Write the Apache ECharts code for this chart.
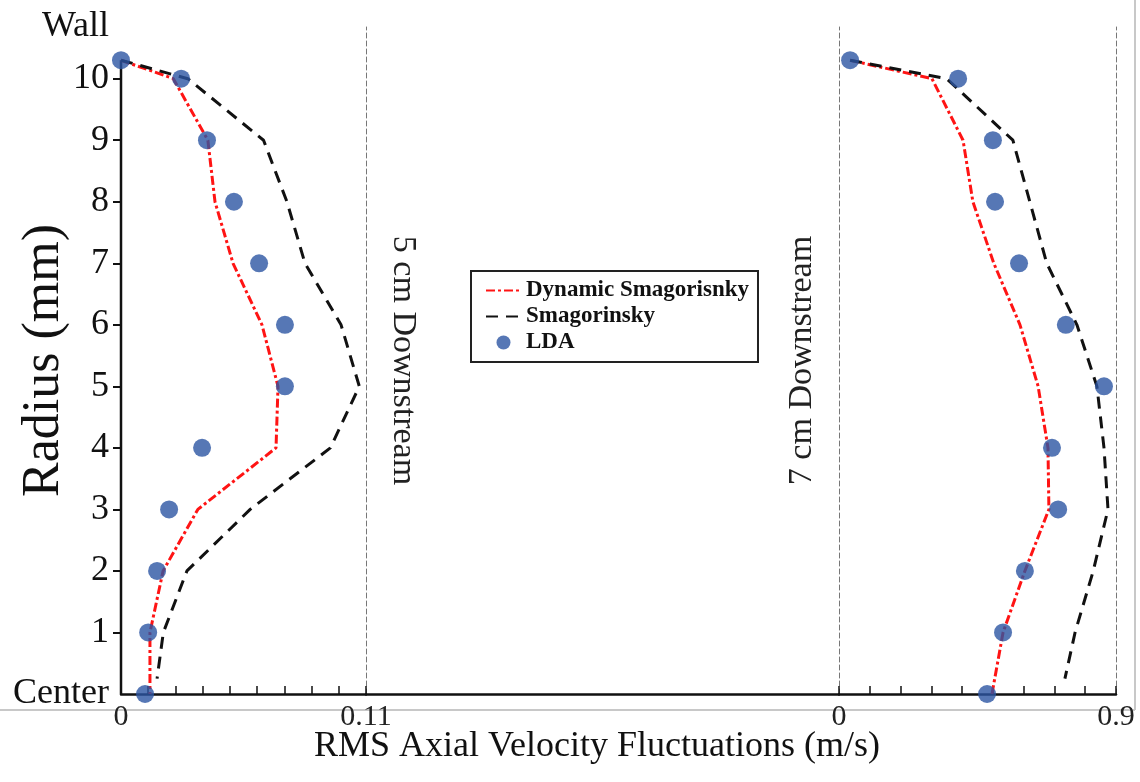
<!DOCTYPE html>
<html>
<head>
<meta charset="utf-8">
<title>RMS Axial Velocity Fluctuations</title>
<script src="https://cdn.jsdelivr.net/npm/echarts@6/dist/echarts.min.js"></script>
<style>
  html, body { margin: 0; padding: 0; background: #fff; }
  #chart { width: 1140px; height: 782px; }
</style>
</head>
<body>
<div id="chart"></div>
<script>
// Radial positions (mm) from the wall (10.3) down to the pipe centre (0)
const RADIUS = [10.3, 10, 9, 8, 7, 6, 5, 4, 3, 2, 1, 0];
const RADIUS_SMAG = [10.3, 10, 9, 8, 7, 6, 5, 4, 3, 2, 1, 0.25];
const WALL_RADIUS = 10.3;

// 5 cm downstream profiles (m/s)
const LDA_5CM  = [0, 0.027, 0.0386, 0.0507, 0.062, 0.0736, 0.0736, 0.0364, 0.0216, 0.0162, 0.0122, 0.0108];
const DYN_5CM  = [0, 0.0235, 0.039, 0.0422, 0.0503, 0.0633, 0.0705, 0.0696, 0.0345, 0.0189, 0.013, 0.013];
const SMAG_5CM = [0, 0.03, 0.064, 0.0745, 0.0826, 0.0988, 0.107, 0.094, 0.058, 0.0296, 0.019, 0.0162];

// 7 cm downstream profiles (m/s)
const LDA_7CM  = [0.036, 0.387, 0.5, 0.507, 0.585, 0.737, 0.861, 0.692, 0.712, 0.604, 0.533, 0.481];
const DYN_7CM  = [0.036, 0.302, 0.403, 0.435, 0.503, 0.588, 0.647, 0.679, 0.682, 0.604, 0.533, 0.497];
const SMAG_7CM = [0.036, 0.35, 0.565, 0.62, 0.675, 0.773, 0.838, 0.861, 0.874, 0.826, 0.767, 0.734];

// Axis ranges and tick labels
const Y_MAX = 10.84;
const Y_TICKS = [1, 2, 3, 4, 5, 6, 7, 8, 9, 10];
const Y_LABELS = [0, 1, 2, 3, 4, 5, 6, 7, 8, 9, 10, Y_MAX];
const X_MAX_5CM = 0.11;
const X_MAX_7CM = 0.9;
const X_TICK_STEP_5CM = X_MAX_5CM / 9;
const X_TICK_STEP_7CM = 0.1;

const SERIES_NAMES = ['Dynamic Smagorisnky', 'Smagorinsky', 'LDA'];
const PANEL_NAMES = ['5 cm Downstream', '7 cm Downstream'];
const X_TITLE = 'RMS Axial Velocity Fluctuations (m/s)';
const Y_TITLE = 'Radius (mm)';

const SERIF = "'Liberation Serif', 'Times New Roman', serif";
const pairs = (xs, ys) => xs.map((x, i) => [x, ys[i]]);

const DYN_STYLE = { color: '#ff1414', width: 3, type: [9, 3, 3, 3] };
const SMAG_STYLE = { color: '#111', width: 3, type: [12, 8] };
const LDA_COLOR = '#2c55a2';

const dashedEdge = { show: true, lineStyle: { color: '#777', width: 1, type: [5, 3] } };

const gridBase = { outerBoundsMode: 'none', containLabel: false, top: 27, height: 667 };
const grids = [
  Object.assign({ left: 121, width: 245 }, gridBase),
  Object.assign({ left: 366, width: 473 }, gridBase),
  Object.assign({ left: 839, width: 277 }, gridBase)
];

const xAxes = [
  {
    gridIndex: 0, type: 'value', min: 0, max: X_MAX_5CM, interval: X_TICK_STEP_5CM,
    axisLine: { show: true, onZero: false, lineStyle: { color: '#111', width: 2.5 } },
    axisTick: { show: true, inside: true, length: 8, lineStyle: { color: '#111', width: 1.5 } },
    axisLabel: {
      margin: 8, fontFamily: SERIF, fontSize: 30, color: '#222',
      formatter: v => (v === 0 ? '0' : (Math.abs(v - X_MAX_5CM) < 1e-9 ? String(X_MAX_5CM) : ''))
    },
    splitLine: { show: false }
  },
  {
    gridIndex: 1, type: 'value', min: 0, max: 1,
    axisLine: { show: true, onZero: false, lineStyle: { color: '#111', width: 2.5 } },
    axisTick: { show: false }, axisLabel: { show: false }, splitLine: { show: false }
  },
  {
    gridIndex: 2, type: 'value', min: 0, max: X_MAX_7CM, interval: X_TICK_STEP_7CM,
    axisLine: { show: true, onZero: false, lineStyle: { color: '#111', width: 2.5 } },
    axisTick: { show: true, inside: true, length: 8, lineStyle: { color: '#111', width: 1.5 } },
    axisLabel: {
      margin: 8, fontFamily: SERIF, fontSize: 30, color: '#222',
      formatter: v => (v === 0 ? '0' : (Math.abs(v - X_MAX_7CM) < 1e-9 ? String(X_MAX_7CM) : ''))
    },
    splitLine: { show: false }
  }
];

const yAxes = [
  {
    gridIndex: 0, type: 'value', position: 'left', min: 0, max: Y_MAX,
    axisLine: { show: false },
    axisTick: { show: true, customValues: Y_TICKS, length: 8, lineStyle: { color: '#111', width: 2 } },
    axisLabel: {
      customValues: Y_LABELS, margin: 12, fontFamily: SERIF, fontSize: 36, color: '#111',
      formatter: v => (v === 0 ? 'Center' : (v === Y_MAX ? 'Wall' : String(v)))
    },
    splitLine: { show: false },
    name: Y_TITLE, nameLocation: 'middle', nameRotate: 90, nameGap: 51, nameMoveOverlap: false,
    nameTextStyle: { fontFamily: SERIF, fontSize: 52, color: '#111' }
  },
  {
    gridIndex: 0, type: 'value', position: 'right', min: 0, max: Y_MAX,
    axisLine: dashedEdge, axisTick: { show: false }, axisLabel: { show: false }, splitLine: { show: false },
    name: PANEL_NAMES[0], nameLocation: 'middle', nameRotate: -90, nameGap: 20, nameMoveOverlap: false,
    nameTextStyle: { fontFamily: SERIF, fontSize: 34, color: '#222' }
  },
  {
    gridIndex: 1, type: 'value', min: 0, max: Y_MAX, show: false
  },
  {
    gridIndex: 2, type: 'value', position: 'left', min: 0, max: Y_MAX,
    axisLine: dashedEdge, axisTick: { show: false }, axisLabel: { show: false }, splitLine: { show: false },
    name: PANEL_NAMES[1], nameLocation: 'middle', nameRotate: 90, nameGap: 20, nameMoveOverlap: false,
    nameTextStyle: { fontFamily: SERIF, fontSize: 34, color: '#222' }
  },
  {
    gridIndex: 2, type: 'value', position: 'right', min: 0, max: Y_MAX,
    axisLine: dashedEdge, axisTick: { show: false }, axisLabel: { show: false }, splitLine: { show: false }
  }
];

const lineSeries = (name, xIdx, yIdx, xs, ys, style) => ({
  name, type: 'line', xAxisIndex: xIdx, yAxisIndex: yIdx,
  data: pairs(xs, ys), symbol: 'none', showSymbol: false, smooth: false,
  lineStyle: style, itemStyle: { color: style.color }, z: 3, silent: true
});

const scatterSeries = (xIdx, yIdx, xs, ys) => ({
  name: SERIES_NAMES[2], type: 'scatter', xAxisIndex: xIdx, yAxisIndex: yIdx,
  data: pairs(xs, ys), symbol: 'circle', symbolSize: 18,
  itemStyle: { color: LDA_COLOR }, z: 5, silent: true
});

const option = {
  animation: false,
  backgroundColor: '#fff',
  grid: grids,
  xAxis: xAxes,
  yAxis: yAxes,
  legend: {
    // line entries show only their dash pattern, no marker
    data: [
      { name: SERIES_NAMES[0], itemStyle: { opacity: 0 } },
      { name: SERIES_NAMES[1], itemStyle: { opacity: 0 } },
      { name: SERIES_NAMES[2] }
    ],
    orient: 'vertical', left: 471, top: 271,
    padding: [8, 9, 8, 14], itemGap: 3, itemWidth: 35, itemHeight: 14,
    borderColor: '#222', borderWidth: 2, backgroundColor: '#fff',
    textStyle: { fontFamily: SERIF, fontWeight: 'bold', fontSize: 23, color: '#111' },
    selectedMode: false
  },
  graphic: [
    // figure frame
    { type: 'line', shape: { x1: 0, y1: 710, x2: 1135, y2: 710 }, style: { stroke: '#c8c8c8', lineWidth: 2 }, z: -1 },
    { type: 'line', shape: { x1: 1135, y1: 0, x2: 1135, y2: 710 }, style: { stroke: '#c8c8c8', lineWidth: 2 }, z: -1 },
    {
      type: 'text', x: 597, y: 747,
      style: { text: X_TITLE, font: '36px ' + SERIF, fill: '#111', textAlign: 'center', textVerticalAlign: 'middle' }
    }
  ],
  series: [
    // radius axis drawn from the centre up to the wall
    {
      name: 'wall-axis', type: 'line', xAxisIndex: 0, yAxisIndex: 0,
      data: [[0, 0], [0, WALL_RADIUS]], symbol: 'none',
      lineStyle: { color: '#111', width: 2.5 }, z: 2, silent: true
    },
    lineSeries(SERIES_NAMES[0], 0, 0, DYN_5CM, RADIUS, DYN_STYLE),
    lineSeries(SERIES_NAMES[1], 0, 0, SMAG_5CM, RADIUS_SMAG, SMAG_STYLE),
    scatterSeries(0, 0, LDA_5CM, RADIUS),
    lineSeries(SERIES_NAMES[0], 2, 3, DYN_7CM, RADIUS, DYN_STYLE),
    lineSeries(SERIES_NAMES[1], 2, 3, SMAG_7CM, RADIUS_SMAG, SMAG_STYLE),
    scatterSeries(2, 3, LDA_7CM, RADIUS)
  ]
};

const chart = echarts.init(document.getElementById('chart'), null, { renderer: 'canvas' });
chart.setOption(option);
</script>
</body>
</html>
